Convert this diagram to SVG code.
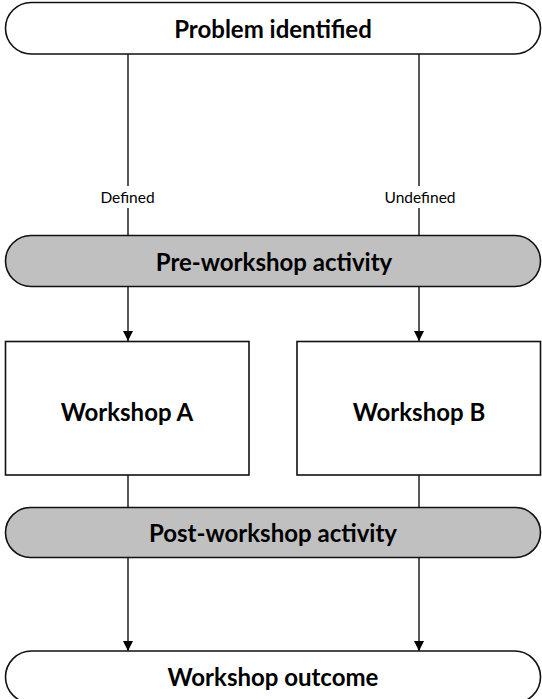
<svg xmlns="http://www.w3.org/2000/svg" width="542" height="699" viewBox="0 0 542 699">
  <style>
    .node { stroke: #111; stroke-width: 1.6; }
    .white { fill: #fff; }
    .grey { fill: #c0c0c0; }
    .title { font-family: Lato, "Liberation Sans", sans-serif; font-weight: bold; font-size: 24px; fill: #000; text-anchor: middle; dominant-baseline: central; }
    .label { font-family: Lato, "Liberation Sans", sans-serif; font-size: 15.5px; fill: #000; text-anchor: middle; dominant-baseline: central; }
    .edge { stroke: #111; stroke-width: 1.4; fill: none; }
  </style>
  <defs>
    <marker id="arrow" viewBox="0 0 10 10" refX="10" refY="5" markerWidth="10" markerHeight="10" markerUnits="userSpaceOnUse" orient="auto">
      <path d="M0,0 L10,5 L0,10 Z" fill="#000"/>
    </marker>
  </defs>

  <!-- connectors -->
  <g id="connectors">
    <line class="edge" x1="128" y1="54" x2="128" y2="341" marker-end="url(#arrow)"/>
    <line class="edge" x1="419" y1="54" x2="419" y2="341" marker-end="url(#arrow)"/>
    <line class="edge" x1="128" y1="475" x2="128" y2="651" marker-end="url(#arrow)"/>
    <line class="edge" x1="419" y1="475" x2="419" y2="651" marker-end="url(#arrow)"/>
    <rect x="99" y="186" width="58" height="22" fill="#fff"/>
    <text class="label" x="127.5" y="197">Defined</text>
    <rect x="381" y="186" width="78" height="22" fill="#fff"/>
    <text class="label" x="420" y="197">Undefined</text>
  </g>

  <g id="problem-identified">
    <rect class="node white" x="5.5" y="2.5" width="535" height="51.5" rx="25.75"/>
    <text class="title" x="273" y="28">Problem identified</text>
  </g>

  <g id="pre-workshop">
    <rect class="node grey" x="5.5" y="235.5" width="535" height="51" rx="25.5"/>
    <text class="title" x="274" y="261">Pre-workshop activity</text>
  </g>

  <g id="workshop-a">
    <rect class="node white" x="5.5" y="341.5" width="243.5" height="133.5"/>
    <text class="title" x="127" y="411">Workshop A</text>
  </g>

  <g id="workshop-b">
    <rect class="node white" x="297" y="341.5" width="243.5" height="133.5"/>
    <text class="title" x="419" y="411">Workshop B</text>
  </g>

  <g id="post-workshop">
    <rect class="node grey" x="5.5" y="507.5" width="535" height="50" rx="25"/>
    <text class="title" x="273" y="532">Post-workshop activity</text>
  </g>

  <g id="workshop-outcome">
    <rect class="node white" x="5.5" y="651" width="535" height="52" rx="26"/>
    <text class="title" x="273" y="676">Workshop outcome</text>
  </g>
</svg>
